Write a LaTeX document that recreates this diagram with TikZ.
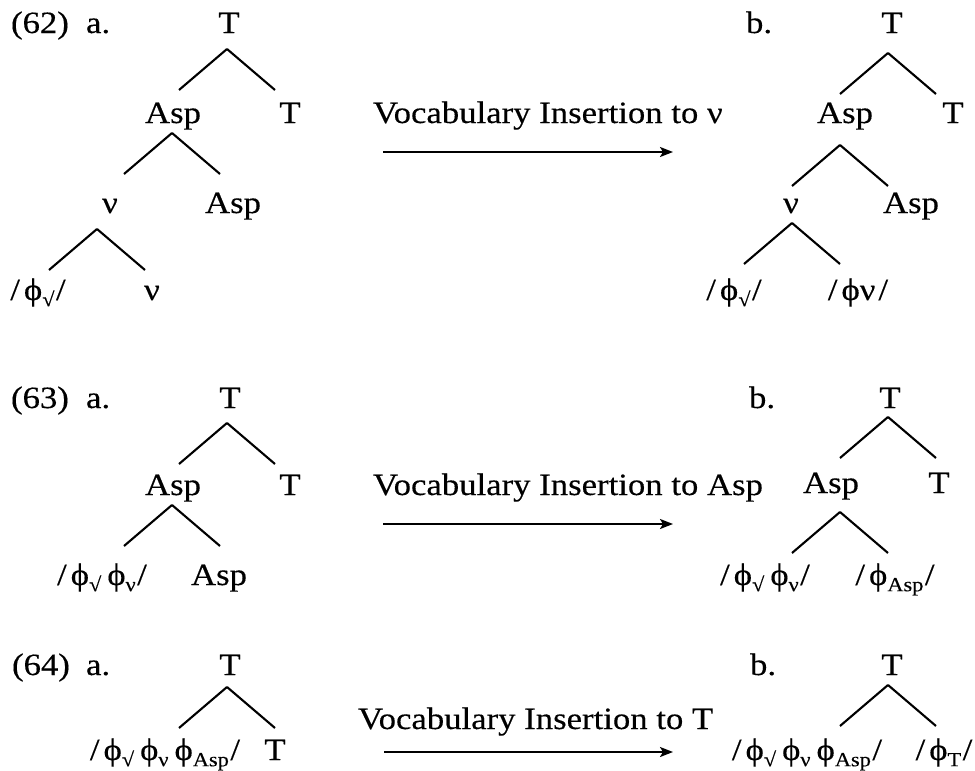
\documentclass[tikz,border=0pt]{standalone}
\usepackage{fontspec}
\setmainfont{Liberation Serif}[FakeStretch=1.12,FakeBold=0.3]
\usetikzlibrary{arrows.meta}

% text sizes
\newcommand\fz{\fontsize{31}{37}\selectfont}
\newcommand\lo[1]{\raisebox{-0.2em}{\fontsize{20}{24}\selectfont #1}}
% exponent strings
\newcommand\ex[1]{ϕ\lo{#1}}
\newcommand\lsl{/\kern4pt}
\newcommand\rsl{\kern1.5pt/}
\newcommand\gap{\kern6pt}
% a binary branching below a mother node: apex shifted by (#2,#3) from its base
\newcommand\fork[3]{%
  \draw ([shift={(#2,#3)}]#1.base) -- +(-48,41)
        ([shift={(#2,#3)}]#1.base) -- +(48,41);}

\begin{document}
\begin{tikzpicture}[x=1pt,y=-1pt,line width=2.1pt,
  lbl/.style={anchor=base,inner sep=0pt,font=\fz},
  tag/.style={anchor=base west,inner sep=0pt,font=\fz},
  arr/.style={-{Stealth[length=13pt,width=10pt,inset=3pt]},line width=2.1pt}]
\useasboundingbox (0,0) rectangle (975,771);

% ---------------- (62) ----------------
\node[tag] (n62) at (10,33) {(62)};
\node[tag] (a62) at (85,33) {a.};
\node[lbl] (p62t)  at (229,33)  {T};
\node[lbl] (p62asp) at (173,123) {Asp};
\node[lbl] (p62t1) at (290,123) {T};
\node[lbl] (p62v)  at (110,213) {ν};
\node[lbl] (p62asp1) at (233,213) {Asp};
\node[lbl] (p62r)  at (38,300)  {\lsl\ex{√}\rsl};
\node[lbl] (p62v1) at (152,300) {ν};
\fork{p62t}{-2}{16}
\fork{p62asp}{-1}{10}
\fork{p62v}{-13}{16}

\node[tag] (l62) at (372,123) {Vocabulary Insertion to ν};
\coordinate (s62) at (383,152);
\coordinate (e62) at (673,152);
\draw[arr] (s62) -- (e62);

\node[tag] (b62) at (745,33) {b.};
\node[lbl] (q62t)  at (892,33)  {T};
\node[lbl] (q62asp) at (845,123) {Asp};
\node[lbl] (q62t1) at (953,123) {T};
\node[lbl] (q62v)  at (791,213) {ν};
\node[lbl] (q62asp1) at (911,213) {Asp};
\node[lbl] (q62r)  at (734,300) {\lsl\ex{√}\rsl};
\node[lbl] (q62v1) at (858,300) {\lsl ϕν\kern3pt/};
\fork{q62t}{-4}{20}
\fork{q62asp}{-5}{22}
\fork{q62v}{1}{10}

% ---------------- (63) ----------------
\node[tag] (n63) at (10,408) {(63)};
\node[tag] (a63) at (85,408) {a.};
\node[lbl] (p63t)  at (230,408) {T};
\node[lbl] (p63asp) at (173,495) {Asp};
\node[lbl] (p63t1) at (290,495) {T};
\node[lbl] (p63r)  at (102,585) {\lsl\ex{√}\gap\ex{ν}\rsl};
\node[lbl] (p63asp1) at (219,585) {Asp};
\fork{p63t}{-3}{15}
\fork{p63asp}{-1}{10}

\node[tag] (l63) at (372,495) {Vocabulary Insertion to Asp};
\coordinate (s63) at (383,524);
\coordinate (e63) at (673,524);
\draw[arr] (s63) -- (e63);

\node[tag] (b63) at (748,408) {b.};
\node[lbl] (q63t)  at (890,408) {T};
\node[lbl] (q63asp) at (831,493) {Asp};
\node[lbl] (q63t1) at (939,493) {T};
\node[lbl] (q63r)  at (765,585) {\lsl\ex{√}\gap\ex{ν}\rsl};
\node[lbl] (q63asp1) at (895,585) {\lsl\ex{Asp}\rsl};
\fork{q63t}{-2}{9}
\fork{q63asp}{9}{19}

% ---------------- (64) ----------------
\node[tag] (n64) at (11,675) {(64)};
\node[tag] (a64) at (85,675) {a.};
\node[lbl] (p64t)  at (230,675) {T};
\node[lbl] (p64r)  at (165,760) {\lsl\ex{√}\gap\ex{ν}\gap\ex{Asp}\rsl};
\node[lbl] (p64t1) at (275,760) {T};
\fork{p64t}{-3}{12}

\node[tag] (l64) at (357,729) {Vocabulary Insertion to T};
\coordinate (s64) at (384,752);
\coordinate (e64) at (673,752);
\draw[arr] (s64) -- (e64);

\node[tag] (b64) at (749,675) {b.};
\node[lbl] (q64t)  at (892,675) {T};
\node[lbl] (q64r)  at (807,760) {\lsl\ex{√}\gap\ex{ν}\gap\ex{Asp}\rsl};
\node[lbl] (q64t1) at (944,760) {\lsl\ex{T}\rsl};
\fork{q64t}{-4}{10}
\end{tikzpicture}
\end{document}
